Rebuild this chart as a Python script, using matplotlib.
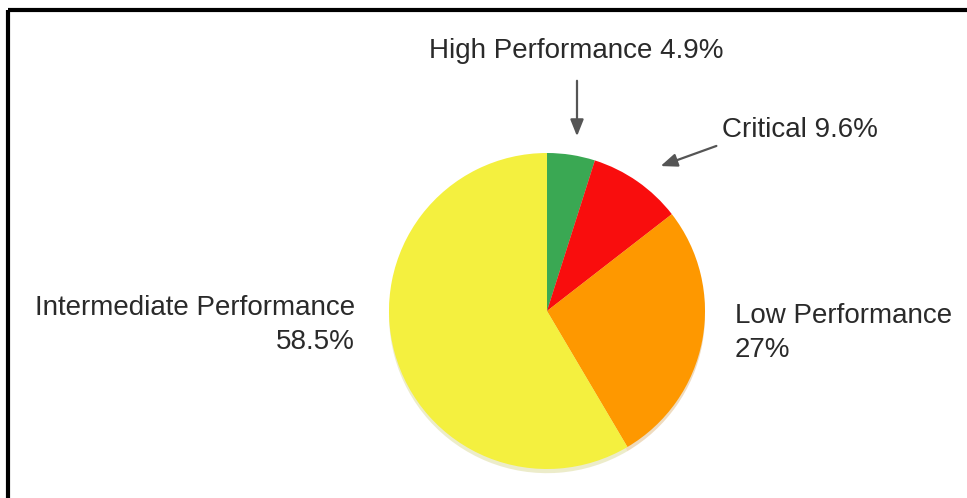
import matplotlib.pyplot as plt

# performance rating shares (%), clockwise from 12 o'clock
labels = ["High Performance", "Critical", "Low Performance", "Intermediate Performance"]
shares = [4.9, 9.6, 27, 58.5]
colors = ["#3aa853", "#f90d0d", "#fe9800", "#f4f03f"]

W, H = 967, 498
plt.rcParams['font.family'] = ['Liberation Sans', 'DejaVu Sans']

fig = plt.figure(figsize=(W / 100, H / 100), dpi=100)
ax = fig.add_axes([0, 0, 1, 1])

ax.pie(shares, colors=colors, startangle=90, counterclock=False,
       center=(547, H - 311), radius=158, frame=True,
       wedgeprops=dict(linewidth=0),
       shadow=dict(ox=0, oy=-3, shade=0.25, alpha=0.25))
ax.set_xlim(0, W)
ax.set_ylim(0, H)
ax.set_aspect('equal')
ax.axis('off')

# frame (cut off at right/bottom)
ax.plot([8, W], [H - 10, H - 10], color='black', lw=3, solid_capstyle='butt')
ax.plot([8, 8], [H - 10, 0], color='black', lw=3, solid_capstyle='butt')

fs = 20
tc = '#2a2a2a'
ax.text(576, H - 51, f"{labels[0]} {shares[0]}%", fontsize=fs, color=tc,
        ha='center', va='center')
ax.text(722, H - 130, f"{labels[1]} {shares[1]}%", fontsize=fs, color=tc,
        ha='left', va='center')
ax.text(355, H - 325, f"{labels[3]}\n{shares[3]}%", fontsize=fs, color=tc,
        ha='right', va='center', multialignment='right', linespacing=1.4)
ax.text(735, H - 333, f"{labels[2]}\n{shares[2]:g}%", fontsize=fs, color=tc,
        ha='left', va='center', linespacing=1.4)

arrow = dict(arrowstyle='-|>,head_length=1.0,head_width=0.4', color='#555555', lw=1.6)
ax.annotate('', xy=(577, H - 139), xytext=(577, H - 78), arrowprops=arrow)
ax.annotate('', xy=(658, H - 167), xytext=(719, H - 145), arrowprops=arrow)

fig.savefig('out.png', dpi=100)
